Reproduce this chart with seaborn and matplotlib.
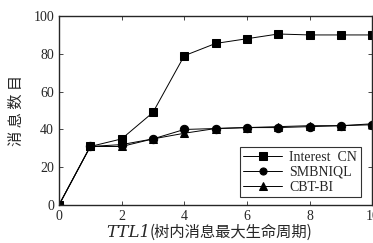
import numpy as np
import pandas as pd
import matplotlib
matplotlib.use('Agg')
import matplotlib.pyplot as plt
import seaborn as sns

ttl = [0, 1, 2, 3, 4, 5, 6, 7, 8, 9, 10]
interest_cn = [0, 31, 35, 49, 79, 85.5, 88, 90.5, 90, 90, 90]
smbniql = [0, 31, 32, 35, 40, 40.5, 41, 41, 41.5, 42, 42.5]
cbt_bi = [0, 31, 31, 35, 38, 40.5, 41, 41.5, 42, 42, 43]
series = ['Interest  CN', 'SMBNIQL', 'CBT-BI']
markers = ['s', 'o', '^']

df = pd.DataFrame({'TTL': ttl * 3,
                   'val': interest_cn + smbniql + cbt_bi,
                   'alg': np.repeat(series, len(ttl))})

sns.set_style('ticks')
plt.rcParams['font.family'] = ['Liberation Serif', 'Noto Sans CJK SC']

fig = plt.figure(figsize=(3.73, 2.43), dpi=100)
ax = fig.add_axes([0.158, 0.156, 0.84, 0.778])
sns.lineplot(data=df, x='TTL', y='val', hue='alg', style='alg', markers=markers,
             dashes=False, palette=['black'] * 3, linewidth=0.7, markersize=6,
             markeredgecolor='black', ax=ax)

ax.set_xlim(0, 10)
ax.set_ylim(0, 100)
ax.set_xticks([0, 2, 4, 6, 8, 10])
ax.set_yticks([0, 20, 40, 60, 80, 100])
ax.tick_params(direction='in', top=True, right=True, labelsize=10, length=3, width=0.6)
for s in ax.spines.values():
    s.set_linewidth(1.0)
ax.set_xlabel('')
ax.set_ylabel('消 息 数 目', fontsize=11, family=['Noto Sans CJK SC'], labelpad=6)

# x label: italic TTL1 followed by the CJK part
fig.text(0.402, 0.025, 'TTL1', style='italic', fontsize=12, ha='right', va='baseline',
         family=['DejaVu Serif'])
fig.text(0.402, 0.025, '(树内消息最大生命周期)', fontsize=11, ha='left', va='baseline',
         family=['Noto Sans CJK SC'])

leg = ax.legend(loc='lower right', fontsize=10, frameon=True, fancybox=False,
                edgecolor='black', handlelength=2.8, borderpad=0.25, labelspacing=0.15,
                handletextpad=0.5, markerscale=0.85, bbox_to_anchor=(0.985, 0.005))
leg.get_frame().set_linewidth(0.8)
for t in leg.get_texts():
    t.set_family(['Liberation Serif'])

fig.savefig('out.png', dpi=100)
